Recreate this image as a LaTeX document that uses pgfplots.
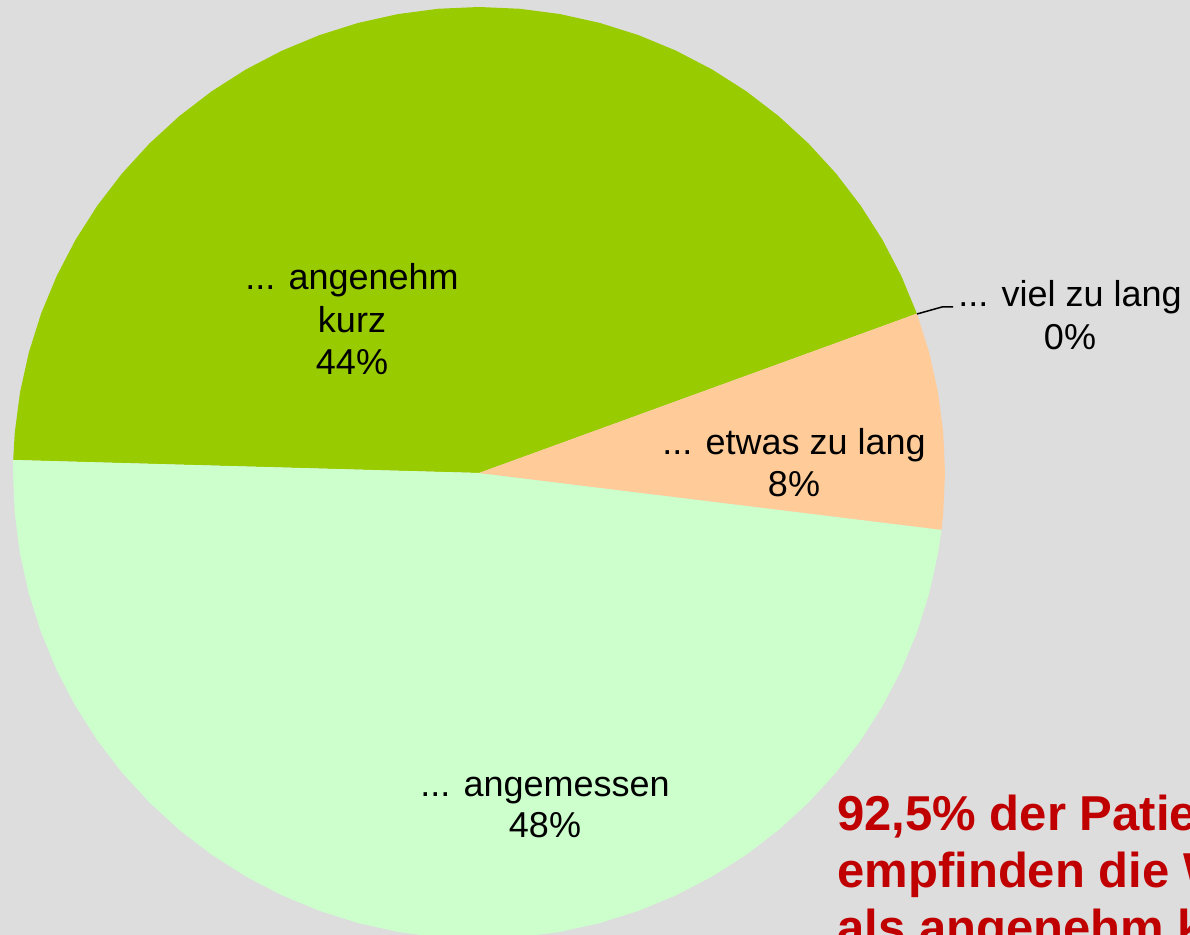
\documentclass[border=0pt]{standalone}
\usepackage{pgfplots}
\pgfplotsset{compat=1.18}
\usepgfplotslibrary{polar}
\usepackage{fontspec}
\setmainfont{Liberation Sans}
\definecolor{bg}{HTML}{DDDDDD}
\definecolor{kurz}{HTML}{99CC00}
\definecolor{angem}{HTML}{CCFFCC}
\definecolor{etwas}{HTML}{FFCC99}
\definecolor{rot}{HTML}{C00000}
\tikzset{lbl/.style={font=\fontsize{18}{21}\selectfont, anchor=base, inner sep=0pt},
         red/.style={anchor=base west, text=rot, inner sep=0pt, font=\fontsize{24.5}{28.5}\selectfont\bfseries}}
\begin{document}
\begin{tikzpicture}
\useasboundingbox (0,0) rectangle (595pt,467.5pt);
\clip (0,0) rectangle (595pt,467.5pt);
\fill[bg] (0,0) rectangle (595pt,467.5pt);
\begin{axis}[
  at={(0,0)}, anchor=south west,
  width=595pt, height=467.5pt, scale only axis,
  xmin=-479, xmax=711, ymin=-462, ymax=473,
  axis line style={draw=none}, xtick=\empty, ytick=\empty,
  clip=false,
]
% ... angenehm kurz 44%
\addplot[draw=none, fill=kurz, data cs=polar] coordinates {
(0,0) (20,466) (25,466) (30,466) (35,466) (40,466) (45,466) (50,466) (55,466)
(60,466) (65,466) (70,466) (75,466) (80,466) (85,466) (90,466) (95,466)
(100,466) (105,466) (110,466) (115,466) (120,466) (125,466) (130,466)
(135,466) (140,466) (145,466) (150,466) (155,466) (160,466) (165,466)
(170,466) (175,466) (178.4,466) (0,0)} -- cycle;
% ... angemessen 48.5%
\addplot[draw=none, fill=angem, data cs=polar] coordinates {
(0,0) (178.4,466) (180,466) (185,466) (190,466) (195,466) (200,466) (205,466)
(210,466) (215,466) (220,466) (225,466) (230,466) (235,466) (240,466)
(245,466) (250,466) (255,466) (260,466) (265,466) (270,466) (275,466)
(280,466) (285,466) (290,466) (295,466) (300,466) (305,466) (310,466)
(315,466) (320,466) (325,466) (330,466) (335,466) (340,466) (345,466)
(350,466) (353,466) (0,0)} -- cycle;
% ... etwas zu lang 7.5%
\addplot[draw=none, fill=etwas, data cs=polar] coordinates {
(0,0) (-7,466) (-5,466) (0,466) (5,466) (10,466) (15,466) (20,466) (0,0)} -- cycle;
% leader line for 0%
\addplot[black, line width=0.75pt] coordinates {(438,159) (463,166) (474,166)};
\node[lbl] at (axis cs:-127,183) {... angenehm};
\node[lbl] at (axis cs:-127,140) {kurz};
\node[lbl] at (axis cs:-127,98) {44\%};
\node[lbl] at (axis cs:315,18) {... etwas zu lang};
\node[lbl] at (axis cs:315,-24) {8\%};
\node[lbl] at (axis cs:66,-324) {... angemessen};
\node[lbl] at (axis cs:66,-365) {48\%};
\node[lbl] at (axis cs:591,166) {... viel zu lang};
\node[lbl] at (axis cs:591,123) {0\%};
\node[red] at (axis cs:358,-358) {92,5\% der Patienten};
\node[red] at (axis cs:358,-415) {empfinden die Wartezeit};
\node[red] at (axis cs:358,-472) {als angenehm kurz};
\end{axis}
\end{tikzpicture}
\end{document}
